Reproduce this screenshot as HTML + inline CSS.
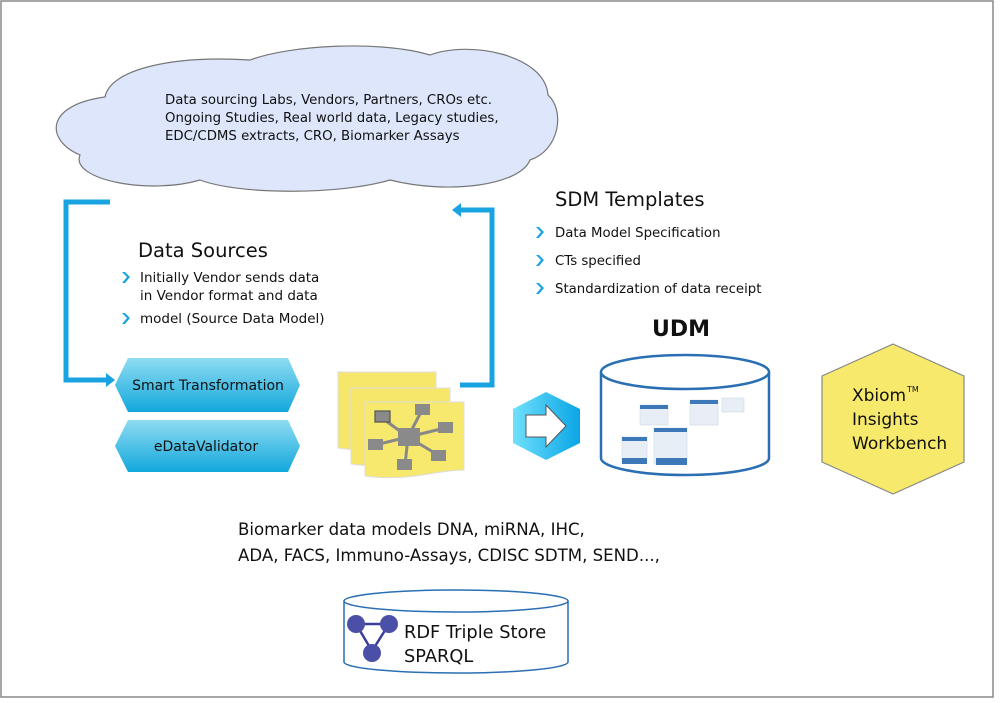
<!DOCTYPE html>
<html><head><meta charset="utf-8"><style>
html,body{margin:0;padding:0;background:#fff;width:1000px;height:703px;overflow:hidden}
text{font-family:"DejaVu Sans","Liberation Sans",sans-serif;fill:#111}
</style></head><body>
<svg width="1000" height="703" viewBox="0 0 1000 703" xmlns="http://www.w3.org/2000/svg">
<defs>
<linearGradient id="bl" x1="0" y1="0" x2="0" y2="1"><stop offset="0" stop-color="#8fdcf2"/><stop offset="1" stop-color="#12a8dc"/></linearGradient>
<linearGradient id="hx" x1="0" y1="0" x2="1" y2="0"><stop offset="0" stop-color="#6fe0fb"/><stop offset="1" stop-color="#0aa5e6"/></linearGradient>
</defs>
<rect x="1" y="1" width="992" height="696" fill="#fff" stroke="#888" stroke-width="1.5"/>
<path d="M105,97 C110,70 170,55 250,60 C290,45 380,40 430,55 C470,40 545,55 548,95 C565,110 560,150 530,160 C520,185 450,195 390,180 C340,195 240,195 200,180 C150,195 70,180 80,155 C45,140 45,105 105,97 Z" fill="#dde6fb" stroke="#777" stroke-width="1.2"/>
<text x="165" y="104" font-size="13.3">Data sourcing Labs, Vendors, Partners, CROs etc.</text>
<text x="165" y="122" font-size="13.3">Ongoing Studies, Real world data, Legacy studies,</text>
<text x="165" y="140" font-size="13.3">EDC/CDMS extracts, CRO, Biomarker Assays</text>
<path d="M110,202 H66 V380 H108" fill="none" stroke="#19a3e1" stroke-width="5"/>
<path d="M106,373 L115,380 L106,387 Z" fill="#19a3e1"/>
<path d="M460,385 H492 V210 H458" fill="none" stroke="#19a3e1" stroke-width="5"/>
<path d="M461,203 L452,210 L461,217 Z" fill="#19a3e1"/>
<text x="138" y="257" font-size="19.5">Data Sources</text>
<g font-size="13.5">
<text x="140" y="282">Initially Vendor sends data</text>
<text x="140" y="300">in Vendor format and data</text>
<text x="140" y="323">model (Source Data Model)</text>
</g>
<g fill="#19a3e1">
<path d="M122,272 L127,277 L122,283 L125,283 L130,277 L125,272Z"/>
<path d="M122,313 L127,318 L122,324 L125,324 L130,318 L125,313Z"/>
<path d="M536,227 L541,232 L536,238 L539,238 L544,232 L539,227Z"/>
<path d="M536,255 L541,260 L536,266 L539,266 L544,260 L539,255Z"/>
<path d="M536,283 L541,288 L536,294 L539,294 L544,288 L539,283Z"/>
</g>
<text x="555" y="206" font-size="19.5">SDM Templates</text>
<g font-size="13.3">
<text x="555" y="237">Data Model Specification</text>
<text x="555" y="265">CTs specified</text>
<text x="555" y="293">Standardization of data receipt</text>
</g>
<text x="652" y="336" font-size="22" font-weight="bold">UDM</text>
<path d="M128,358 H288 L300,385 L288,412 H128 L115,385 Z" fill="url(#bl)"/>
<text x="208" y="390" font-size="14" text-anchor="middle" fill="#333">Smart Transformation</text>
<path d="M128,420 H288 L300,446 L288,472 H128 L115,446 Z" fill="url(#bl)"/>
<text x="206" y="451" font-size="14" text-anchor="middle" fill="#333">eDataValidator</text>
<g stroke="#ddd" stroke-width="1">
<path d="M338,372 H436 V440 C410,440 380,455 338,448 Z" fill="#f6e66a"/>
<path d="M351,388 H450 V458 C420,458 390,470 351,464 Z" fill="#f6e66a"/>
<path d="M365,402 H464 V470 C435,470 410,482 365,476 Z" fill="#f7e86e"/>
</g>
<g stroke="#888" stroke-width="3"><line x1="382" y1="418" x2="408" y2="437"/><line x1="408" y1="437" x2="422" y2="410"/><line x1="408" y1="437" x2="445" y2="428"/><line x1="408" y1="437" x2="375" y2="445"/><line x1="408" y1="437" x2="438" y2="455"/><line x1="408" y1="437" x2="405" y2="465"/></g>
<g fill="#8a8a8a"><rect x="375" y="411" width="15" height="11" stroke="#555" stroke-width="1.2"/><rect x="398" y="428" width="22" height="18"/><rect x="415" y="404" width="15" height="11"/><rect x="438" y="422" width="15" height="11"/><rect x="368" y="439" width="15" height="11"/><rect x="431" y="450" width="15" height="11"/><rect x="397" y="459" width="15" height="11"/></g>
<path d="M546,392 L580,409 V443 L546,460 L513,443 V409 Z" fill="url(#hx)"/>
<path d="M526,415 H546 V405 L566,426 L546,447 V437 H526 Z" fill="#fff" stroke="#555" stroke-width="1"/>
<path d="M601,372 V458 A84,17 0 0 0 769,458 V372" fill="#fff" stroke="#2a6fb4" stroke-width="2.5"/>
<ellipse cx="685" cy="372" rx="84" ry="17" fill="#fff" stroke="#2a6fb4" stroke-width="2.5"/>
<g fill="#e8eef5" stroke="#c8d3e0" stroke-width="0.5">
<rect x="640" y="405" width="28" height="20"/><rect x="690" y="400" width="28" height="25"/><rect x="654" y="428" width="33" height="36"/><rect x="622" y="437" width="25" height="25"/><rect x="722" y="398" width="22" height="14"/>
</g>
<g fill="#3d78b8"><rect x="640" y="405" width="28" height="4"/><rect x="690" y="400" width="28" height="4"/><rect x="654" y="428" width="33" height="4"/><rect x="622" y="437" width="25" height="4"/><rect x="622" y="458" width="25" height="6"/><rect x="656" y="458" width="31" height="7"/></g>
<path d="M893,344 L964,376 V462 L893,494 L822,462 V376 Z" fill="#f6e96c" stroke="#888" stroke-width="1.2"/>
<text x="852" y="401" font-size="17">Xbiom</text><text x="907" y="392" font-size="8">TM</text>
<text x="852" y="425" font-size="17">Insights</text>
<text x="852" y="449" font-size="17">Workbench</text>
<text x="238" y="535" font-size="16.6">Biomarker data models DNA, miRNA, IHC,</text>
<text x="238" y="561" font-size="16.6">ADA, FACS, Immuno-Assays, CDISC SDTM, SEND...,</text>
<path d="M344,601 V662 A112,11 0 0 0 568,662 V601" fill="#fff" stroke="#2a6fb4" stroke-width="1.5"/>
<ellipse cx="456" cy="601" rx="112" ry="11" fill="#fff" stroke="#2a6fb4" stroke-width="1.5"/>
<path d="M356,624 L389,624 L372,651 Z" fill="none" stroke="#3b3f9a" stroke-width="2.5"/>
<circle cx="356" cy="624" r="9" fill="#4b4fa8"/><circle cx="389" cy="624" r="9" fill="#4b4fa8"/><circle cx="372" cy="653" r="9" fill="#4b4fa8"/>
<text x="404" y="638" font-size="17.8">RDF Triple Store</text>
<text x="404" y="662" font-size="17.8">SPARQL</text>
</svg>
</body></html>
